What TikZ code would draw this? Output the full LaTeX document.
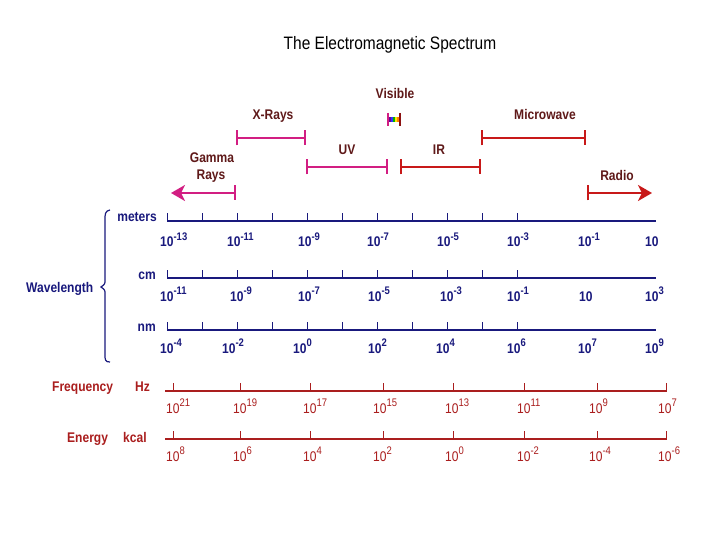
\documentclass[tikz,border=0pt]{standalone}
\usepackage{fontspec}
\setmainfont{Liberation Sans}[FakeStretch=0.86]
\usetikzlibrary{arrows.meta}
\definecolor{navy}{RGB}{25,25,125}
\definecolor{freqred}{RGB}{170,30,30}
\definecolor{labbrown}{RGB}{95,25,25}
\definecolor{bandmag}{RGB}{210,30,130}
\definecolor{bandred}{RGB}{200,25,25}
\newcommand\tenp[1]{10\raisebox{6.5pt}{\fontsize{11}{11}\selectfont#1}}
\tikzset{
  titletext/.style={font=\fontsize{18}{20}\selectfont, text=black, inner sep=0pt},
  bandlabel/.style={font=\bfseries\fontsize{14}{16}\selectfont, text=labbrown, inner sep=0pt, anchor=base},
  band/.style={line width=2.4pt, {Bar[width=15pt,line width=1.6pt]}-{Bar[width=15pt,line width=1.6pt]}},
  wlabel/.style={font=\bfseries\fontsize{14}{16}\selectfont, text=navy, inner sep=0pt, anchor=base east},
  wnum/.style={font=\bfseries\fontsize{14}{16}\selectfont, text=navy, inner sep=0pt, anchor=base west},
  wline/.style={draw=navy, line width=1.6pt},
  wtick/.style={draw=navy, line width=1pt},
  flabel/.style={font=\bfseries\fontsize{14}{16}\selectfont, text=freqred, inner sep=0pt, anchor=base west},
  fnum/.style={font=\fontsize{14}{16}\selectfont, text=freqred, inner sep=0pt, anchor=base west},
  fline/.style={draw=freqred, line width=1.5pt},
  ftick/.style={draw=freqred, line width=1pt},
  gammaarrow/.style={line width=2.4pt, {Bar[width=15pt,line width=1.6pt]}-{Stealth[length=14pt,width=16pt,inset=4pt]}},
}
\begin{document}
\begin{tikzpicture}[x=1pt,y=-1pt]
\useasboundingbox (0,0) rectangle (720,540);
\fill[white] (0,0) rectangle (720,540);

% title
\node[titletext] (title) at (390,45) {The Electromagnetic Spectrum};

% band end points
\coordinate (ga) at (236,193); \coordinate (gb) at (171,193);
\coordinate (xa) at (236,138); \coordinate (xb) at (306,138);
\coordinate (ua) at (306,167); \coordinate (ub) at (388,167);
\coordinate (ia) at (400,167); \coordinate (ib) at (481,167);
\coordinate (ma) at (481,138); \coordinate (mb) at (586,138);
\coordinate (ra) at (587,193); \coordinate (rb) at (652,193);

\draw[gammaarrow, bandmag] (ga) -- (gb);
\draw[band, bandmag] (xa) -- (xb);
\draw[band, bandmag] (ua) -- (ub);
\draw[band, bandred] (ia) -- (ib);
\draw[band, bandred] (ma) -- (mb);
\draw[gammaarrow, bandred] (ra) -- (rb);

% visible rainbow
\fill[violet!80!blue] (389,117.5) rectangle (391,122.5);
\fill[blue!80] (391,117.5) rectangle (393,122.5);
\fill[green!70!black] (393,117.5) rectangle (395,122.5);
\fill[yellow!90!orange] (395,117.5) rectangle (397,122.5);
\fill[orange] (397,117.5) rectangle (399,122.5);
\draw[bandmag, line width=1.5pt] (388,113) -- (388,126);
\draw[bandred!70!black, line width=1.5pt] (400,113) -- (400,126);

% band labels
\node[bandlabel] (lvis) at (395,99) {Visible};
\node[bandlabel] (lxr) at (273,120) {X-Rays};
\node[bandlabel] (luv) at (347,155) {UV};
\node[bandlabel] (lir) at (439,155) {IR};
\node[bandlabel] (lmw) at (545,120) {Microwave};
\node[bandlabel] (lg1) at (212,163) {Gamma};
\node[bandlabel] (lg2) at (211,180) {Rays};
\node[bandlabel] (lrad) at (617,181) {Radio};

% wavelength brace
\draw[navy, line width=1.2pt] (110,210) .. controls (105,211) and (105,214) .. (105,220)
  -- (105,280) .. controls (105,284) .. (101,287) .. controls (105,290) .. (105,294)
  -- (105,354) .. controls (105,360) and (105,362) .. (110,362);
\node[font=\bfseries\fontsize{14}{16}\selectfont, text=navy, inner sep=0pt, anchor=base west] (wl) at (26,292) {Wavelength};

% wavelength rows
\foreach \yy/\nm in {221/m, 278/c, 330/n}{
  \coordinate (\nm a) at (167,\yy);
  \coordinate (\nm b) at (656,\yy);
  \draw[wline] (\nm a) -- (\nm b);
  \foreach \xx in {167,202,...,517}{\draw[wtick] (\xx,\yy) -- ++(0,-8);}
}
\node[wlabel] (lm) at (157,222) {meters};
\node[wlabel] (lc) at (156,279) {cm};
\node[wlabel] (ln) at (156,331) {nm};

\foreach \xx/\t [count=\i] in {160/{-13},227/{-11},298/{-9},367/{-7},437/{-5},507/{-3},578/{-1}}{
  \node[wnum] (m\i) at (\xx,247) {\tenp{\t}};}
\node[wnum] (m8) at (645,247) {10};
\foreach \xx/\t [count=\i] in {160/{-11},230/{-9},298/{-7},368/{-5},440/{-3},507/{-1}}{
  \node[wnum] (c\i) at (\xx,301) {\tenp{\t}};}
\node[wnum] (c7) at (579,301) {10};
\node[wnum] (c8) at (645,301) {\tenp{3}};
\foreach \xx/\t [count=\i] in {160/{-4},222/{-2},293/{0},368/{2},436/{4},507/{6},578/{7},645/{9}}{
  \node[wnum] (n\i) at (\xx,353) {\tenp{\t}};}

% frequency and energy rows
\node[flabel] (lf) at (52,391) {Frequency};
\node[flabel] (lhz) at (135,391) {Hz};
\node[flabel] (le) at (67,442) {Energy};
\node[flabel] (lk) at (123,442) {kcal};
\foreach \yy/\nm in {391/f, 439/e}{
  \coordinate (\nm a) at (165,\yy);
  \coordinate (\nm b) at (667,\yy);
  \draw[fline] (\nm a) -- (\nm b);
  \foreach \xx in {173,240,310,383,453,524,597,666}{\draw[ftick] (\xx,\yy) -- ++(0,-8);}
}
\foreach \xx/\t [count=\i] in {166/21,233/19,303/17,373/15,445/13,517/11,589/9,658/7}{
  \node[fnum] (f\i) at (\xx,413) {\tenp{\t}};}
\foreach \xx/\t [count=\i] in {166/8,233/6,303/4,373/2,445/0,517/{-2},589/{-4},658/{-6}}{
  \node[fnum] (e\i) at (\xx,461) {\tenp{\t}};}
\end{tikzpicture}
\end{document}
